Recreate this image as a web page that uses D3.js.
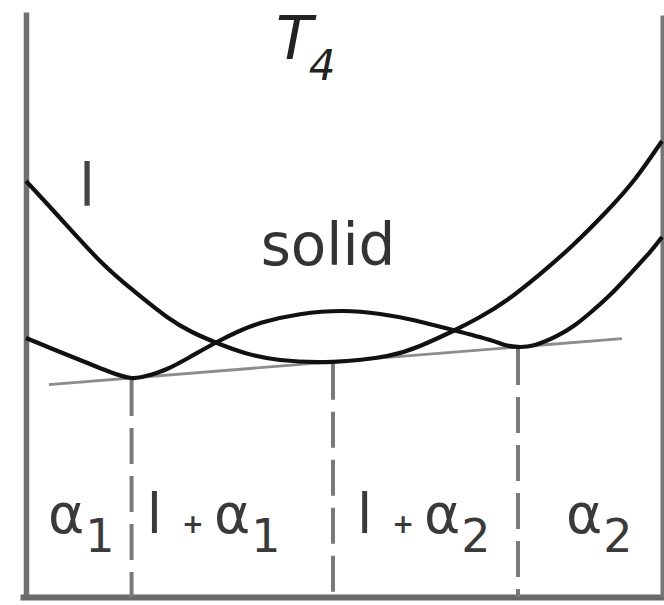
<!DOCTYPE html>
<html>
<head>
<meta charset="utf-8">
<script src="https://cdn.jsdelivr.net/npm/d3@7"></script>
<style>
  html, body { margin: 0; padding: 0; background: #fff; }
  svg { display: block; }
  text { font-family: "DejaVu Sans", sans-serif; }
</style>
</head>
<body>
<svg id="chart" width="664" height="605"></svg>
<script>
// Free-energy / composition curves at temperature T4 (arbitrary units)
const liquidX = [0, 0.0535, 0.1164, 0.1714, 0.2217, 0.2610, 0.3003, 0.3443, 0.3994, 0.4827,
                 0.5676, 0.6195, 0.6714, 0.7138, 0.7563, 0.8082, 0.8601, 0.9135, 0.9575, 1.0];
const liquidG = [71.11, 64.79, 57.44, 52.14, 47.86, 45.30, 43.42, 41.71, 40.51, 40.20,
                 41.20, 42.91, 45.47, 47.86, 50.77, 55.21, 60.17, 65.98, 71.45, 77.95];

const solidX = [0, 0.0535, 0.1006, 0.1321, 0.166, 0.195, 0.2217, 0.2579, 0.3003, 0.3365, 0.3726,
                0.4308, 0.4984, 0.5566, 0.6085, 0.6714, 0.7296, 0.7531, 0.7736, 0.8003, 0.8349,
                0.8632, 0.8868, 0.9182, 0.9497, 0.9811, 1.0];
const solidG = [44.27, 41.88, 39.83, 38.46, 37.44, 37.95, 38.97, 41.03, 43.59, 45.52, 46.95,
                48.33, 48.89, 48.38, 47.35, 45.64, 43.93, 43.08, 42.74, 43.08, 44.62,
                46.50, 48.55, 51.62, 55.21, 58.97, 61.54];

// Common tangent: touches solid at α1 and α2, liquid in between
const tangentX = [0.166, 0.4827, 0.7736];   // α1, l, α2 compositions
const tangentG = [37.44, 40.2, 42.74];
const tangentExtent = [0.036, 0.937];

// Phase-field labels
const phaseNames = ["α", "l", "l", "α"];
const phaseSubs = ["1", "1", "2", "2"];
const curveNames = ["l", "solid"];
const tempSymbol = "T";
const tempSub = "4";

const svg = d3.select("#chart");

const x = d3.scaleLinear().domain([0, 1]).range([26, 662]);
const y = d3.scaleLinear().domain([0, 100]).range([597, 12]);

// Frame
const frame = svg.append("g");
frame.append("g").attr("transform", `translate(${x(0)},0)`)
  .call(d3.axisLeft(y).tickValues([]).tickSizeOuter(0))
  .call(g => g.select(".domain").attr("stroke", "#707070").attr("stroke-width", 5.5));
frame.append("g").attr("transform", `translate(0,${y(0)})`)
  .call(d3.axisBottom(d3.scaleLinear().domain([0, 1]).range([20, 664])).tickValues([]).tickSizeOuter(0))
  .call(g => g.select(".domain").attr("stroke", "#6a6a6a").attr("stroke-width", 6));
frame.append("g").attr("transform", `translate(${x(1)},0)`)
  .call(d3.axisRight(d3.scaleLinear().domain([0, 1]).range([597, 15])).tickValues([]).tickSizeOuter(0))
  .call(g => g.select(".domain").attr("stroke", "#777").attr("stroke-width", 4));

// Common tangent line
const slope = (tangentG[2] - tangentG[0]) / (tangentX[2] - tangentX[0]);
const tan = c => tangentG[0] + slope * (c - tangentX[0]);
svg.append("line")
  .attr("x1", x(tangentExtent[0])).attr("y1", y(tan(tangentExtent[0])))
  .attr("x2", x(tangentExtent[1])).attr("y2", y(tan(tangentExtent[1])))
  .attr("stroke", "#8c8c8c").attr("stroke-width", 2.8);

// Dashed drop lines from the tangent points to the composition axis
svg.append("g").selectAll("line").data(tangentX).join("line")
  .attr("x1", d => x(d)).attr("x2", d => x(d))
  .attr("y1", d => y(tan(d)) + 2).attr("y2", y(0))
  .attr("stroke", "#7a7a7a").attr("stroke-width", 4)
  .attr("stroke-dasharray", "36,12");

// Free-energy curves
const line = d3.line().x(d => x(d[0])).y(d => y(d[1])).curve(d3.curveNatural);
svg.append("path").datum(liquidX.map((c, i) => [c, liquidG[i]]))
  .attr("d", line).attr("fill", "none").attr("stroke", "#111").attr("stroke-width", 4.2);
svg.append("path").datum(solidX.map((c, i) => [c, solidG[i]]))
  .attr("d", line).attr("fill", "none").attr("stroke", "#111").attr("stroke-width", 4.2);

// Curve names
svg.append("text").attr("x", 79).attr("y", 206).attr("font-size", 58).attr("fill", "#444")
  .text(curveNames[0]);
svg.append("text").attr("x", 328).attr("y", 265).attr("font-size", 58).attr("fill", "#333")
  .attr("text-anchor", "middle").text(curveNames[1]);

// Temperature label
const tl = svg.append("text").attr("x", 276).attr("y", 59).attr("fill", "#222")
  .attr("font-style", "italic").attr("font-size", 60);
tl.append("tspan").text(tempSymbol);
tl.append("tspan").attr("font-size", 42).attr("dx", -4).attr("dy", 21).text(tempSub);

// Phase-field labels
const labelAnchors = [0.0346, 0.190, 0.5204, 0.849];
phaseNames.forEach((name, i) => {
  const t = svg.append("text").attr("x", x(labelAnchors[i])).attr("y", 533)
    .attr("font-size", 55).attr("fill", "#3a3a3a");
  if (name === "l") {
    t.append("tspan").text("l");
    t.append("tspan").attr("dx", 20).attr("font-size", 26).attr("font-weight", "bold").text("+");
    t.append("tspan").attr("dx", 10).text("α");
  } else {
    t.append("tspan").text(name);
  }
  t.append("tspan").attr("font-size", 46).attr("dy", 19).attr("dx", 1).text(phaseSubs[i]);
});
</script>
</body>
</html>
